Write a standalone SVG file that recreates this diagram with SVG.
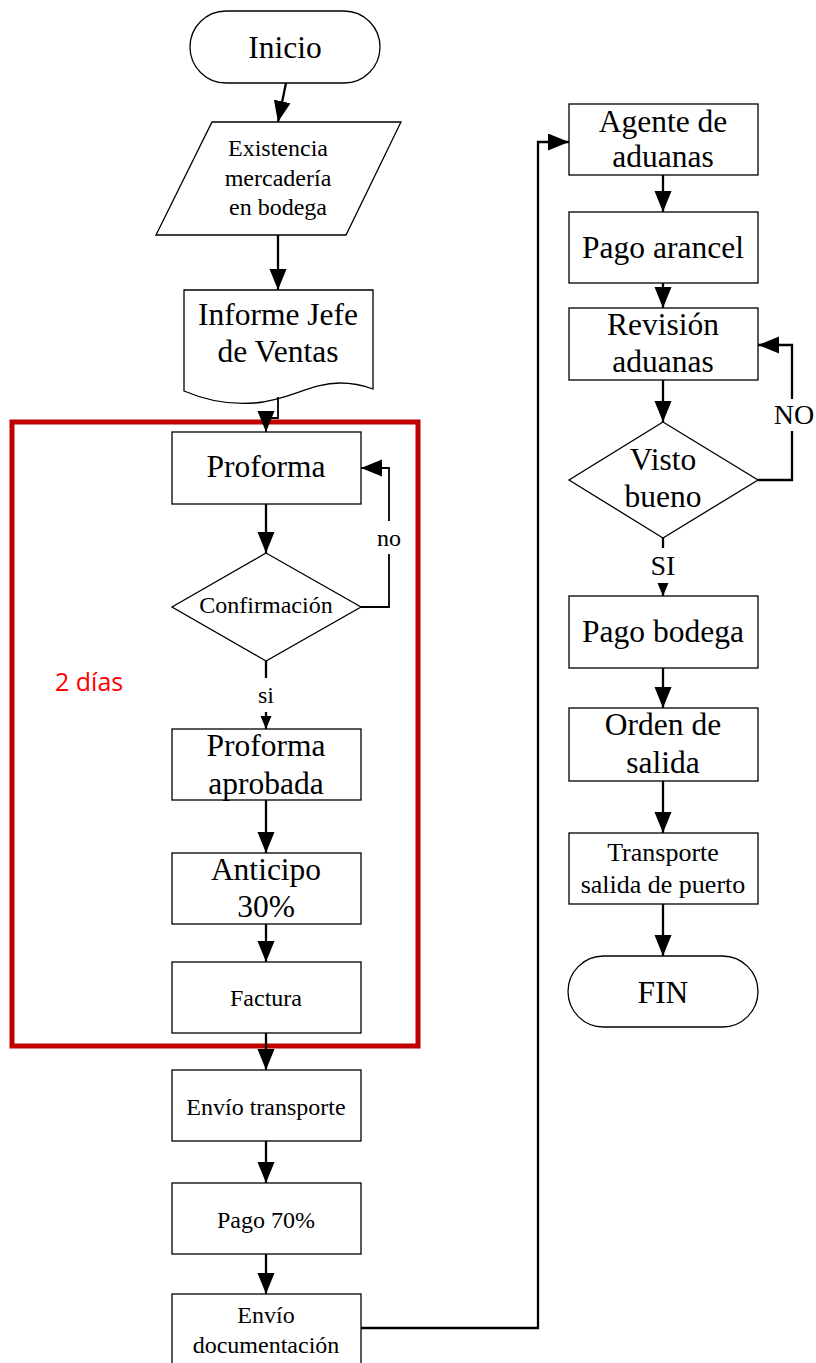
<svg xmlns="http://www.w3.org/2000/svg" width="816" height="1363" viewBox="0 0 816 1363">
<style>
.shape{fill:#fff;stroke:#000;stroke-width:1.3}
.t{font-family:"Liberation Serif","Times New Roman",serif;fill:#000;text-anchor:middle}
.big{font-size:31.5px}
.sm{font-size:24px}
.mid{font-size:26px}
.c{fill:none;stroke:#000;stroke-width:2.3}
.c2{fill:none;stroke:#000;stroke-width:1.8}
.red{fill:none;stroke:#c00000;stroke-width:5}
.lbl{font-family:"Open Sans","Liberation Sans",sans-serif;font-size:25px;fill:#ff0000}
</style>
<defs>
<marker id="ah" markerUnits="userSpaceOnUse" markerWidth="22" markerHeight="18" refX="21" refY="8.5" orient="auto">
<path d="M0,0 L21,8.5 L0,17 z" fill="#000"/>
</marker>
<marker id="ahs" markerUnits="userSpaceOnUse" markerWidth="14" markerHeight="12" refX="13" refY="5.5" orient="auto">
<path d="M0,0 L13,5.5 L0,11 z" fill="#000"/>
</marker>
</defs>
<rect width="816" height="1363" fill="#fff"/>

<g id="inicio">
<rect class="shape" x="190" y="11" width="190" height="72" rx="36" ry="36"/>
<text class="t big" x="285" y="58">Inicio</text>
</g>
<g id="existencia">
<polygon class="shape" points="212,122 401,122 346,235 156,235"/>
<text class="t sm" x="278" y="156">Existencia</text>
<text class="t sm" x="278" y="186">mercadería</text>
<text class="t sm" x="278" y="215">en bodega</text>
</g>
<g id="informe">
<path class="shape" d="M184,290 H373 V389 C365,386 355,383 340,383 C310,383 290,400 255,403 C230,405 205,400 184,391 Z"/>
<text class="t big" x="278" y="325">Informe Jefe</text>
<text class="t big" x="278" y="362">de Ventas</text>
</g>

<g id="plazo">
<rect class="red" x="12" y="422" width="406" height="624"/>
<text class="lbl" x="55" y="691">2 días</text>
</g>

<g id="proforma">
<rect class="shape" x="172" y="432" width="189" height="72"/>
<text class="t big" x="266" y="477">Proforma</text>
</g>
<g id="confirmacion">
<polygon class="shape" points="266,553 361,607 266,661 172,607"/>
<text class="t sm" x="266" y="613">Confirmación</text>
</g>
<g id="aprobada">
<rect class="shape" x="172" y="729" width="189" height="71"/>
<text class="t big" x="266" y="756">Proforma</text>
<text class="t big" x="266" y="794">aprobada</text>
</g>
<g id="anticipo">
<rect class="shape" x="172" y="853" width="189" height="71"/>
<text class="t big" x="266" y="880">Anticipo</text>
<text class="t big" x="266" y="917">30%</text>
</g>
<g id="factura">
<rect class="shape" x="172" y="962" width="189" height="71"/>
<text class="t sm" x="266" y="1006">Factura</text>
</g>
<g id="envio-transporte">
<rect class="shape" x="172" y="1070" width="189" height="71"/>
<text class="t sm" x="266" y="1115">Envío transporte</text>
</g>
<g id="pago70">
<rect class="shape" x="172" y="1183" width="189" height="71"/>
<text class="t sm" x="266" y="1228">Pago 70%</text>
</g>
<g id="envio-doc">
<rect class="shape" x="172" y="1294" width="189" height="75"/>
<text class="t sm" x="266" y="1323">Envío</text>
<text class="t sm" x="266" y="1353">documentación</text>
</g>

<g id="agente">
<rect class="shape" x="569" y="104" width="189" height="71"/>
<text class="t big" x="663" y="132">Agente de</text>
<text class="t big" x="663" y="167">aduanas</text>
</g>
<g id="arancel">
<rect class="shape" x="569" y="212" width="189" height="71"/>
<text class="t big" x="663" y="258">Pago arancel</text>
</g>
<g id="revision">
<rect class="shape" x="569" y="308" width="189" height="72"/>
<text class="t big" x="663" y="335">Revisión</text>
<text class="t big" x="663" y="372">aduanas</text>
</g>
<g id="visto">
<polygon class="shape" points="663,422 758,480 663,538 569,480"/>
<text class="t big" x="663" y="470">Visto</text>
<text class="t big" x="663" y="507">bueno</text>
</g>
<g id="bodega">
<rect class="shape" x="569" y="596" width="189" height="72"/>
<text class="t big" x="663" y="642">Pago bodega</text>
</g>
<g id="orden">
<rect class="shape" x="569" y="708" width="189" height="73"/>
<text class="t big" x="663" y="735">Orden de</text>
<text class="t big" x="663" y="773">salida</text>
</g>
<g id="transporte">
<rect class="shape" x="569" y="833" width="189" height="71"/>
<text class="t mid" x="663" y="861">Transporte</text>
<text class="t mid" x="663" y="893">salida de puerto</text>
</g>
<g id="fin">
<rect class="shape" x="568" y="956" width="190" height="71" rx="35.5" ry="35.5"/>
<text class="t big" x="663" y="1003">FIN</text>
</g>

<g id="connectors">
<path class="c" d="M286,83 L278,122" marker-end="url(#ah)"/>
<path class="c" d="M278,235 V290" marker-end="url(#ah)"/>
<path class="c2" d="M278,397 V418 H266 V432" marker-end="url(#ah)"/>
<path class="c" d="M266,504 V553" marker-end="url(#ah)"/>
<path class="c2" d="M361,607 H389 V554"/>
<path class="c2" d="M389,521 V468 H361" marker-end="url(#ah)"/>
<text class="t sm" x="389" y="546">no</text>
<path class="c" d="M266,661 V678"/>
<text class="t sm" x="266" y="703">si</text>
<path class="c" d="M266,712 V729" marker-end="url(#ahs)"/>
<path class="c" d="M266,800 V853" marker-end="url(#ah)"/>
<path class="c" d="M266,924 V962" marker-end="url(#ah)"/>
<path class="c" d="M266,1033 V1070" marker-end="url(#ah)"/>
<path class="c" d="M266,1141 V1183" marker-end="url(#ah)"/>
<path class="c" d="M266,1254 V1294" marker-end="url(#ah)"/>
<path class="c" d="M361,1328 H538 V142 H569" marker-end="url(#ah)"/>
<path class="c" d="M663,175 V212" marker-end="url(#ah)"/>
<path class="c" d="M663,283 V308" marker-end="url(#ah)"/>
<path class="c" d="M663,380 V422" marker-end="url(#ah)"/>
<path class="c" d="M758,480 H792 V431"/>
<path class="c" d="M792,399 V345 H758" marker-end="url(#ah)"/>
<text class="t" x="794" y="424" font-size="28">NO</text>
<path class="c" d="M663,538 V548"/>
<text class="t" x="663" y="575" font-size="28">SI</text>
<path class="c" d="M663,584 V596" marker-end="url(#ahs)"/>
<path class="c" d="M663,668 V708" marker-end="url(#ah)"/>
<path class="c" d="M663,781 V833" marker-end="url(#ah)"/>
<path class="c" d="M663,904 V956" marker-end="url(#ah)"/>
</g>
</svg>
